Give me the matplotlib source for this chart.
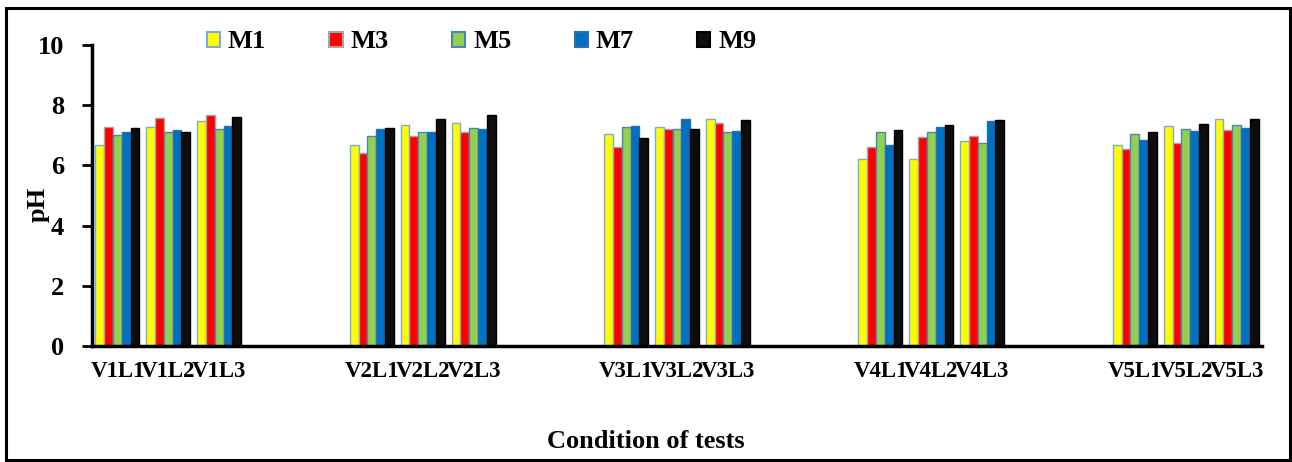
import numpy as np
import matplotlib
matplotlib.use("Agg")
import matplotlib.pyplot as plt
from matplotlib.patches import Patch, Rectangle

# pH per test condition (V = variety, L = level) for each mixture
conditions = [
    "V1L1", "V1L2", "V1L3",
    "V2L1", "V2L2", "V2L3",
    "V3L1", "V3L2", "V3L3",
    "V4L1", "V4L2", "V4L3",
    "V5L1", "V5L2", "V5L3",
]
series_names = ["M1", "M3", "M5", "M7", "M9"]

m1 = [6.68, 7.27, 7.47, 6.68, 7.33, 7.40, 7.05, 7.28, 7.53, 6.21, 6.21, 6.82, 6.67, 7.30, 7.54]
m3 = [7.27, 7.59, 7.67, 6.41, 6.97, 7.12, 6.62, 7.20, 7.42, 6.62, 6.94, 6.99, 6.56, 6.74, 7.19]
m5 = [7.01, 7.11, 7.22, 6.99, 7.12, 7.25, 7.29, 7.20, 7.12, 7.10, 7.10, 6.76, 7.03, 7.20, 7.34]
m7 = [7.12, 7.19, 7.32, 7.20, 7.12, 7.21, 7.32, 7.53, 7.15, 6.68, 7.29, 7.49, 6.83, 7.15, 7.24]
m9 = [7.25, 7.10, 7.62, 7.23, 7.53, 7.66, 6.92, 7.22, 7.51, 7.19, 7.33, 7.52, 7.12, 7.36, 7.54]

fills = ["#FFFF00", "#FF0000", "#92D050", "#0070C0", "#0D0D0D"]
edges = ["#7FA9DC", "#A6A6A6", "#4F81BD", "#2E6DB0", "#000000"]

plt.rcParams["font.family"] = ["Liberation Serif", "DejaVu Serif"]
plt.rcParams["font.weight"] = "bold"

fig = plt.figure(figsize=(12.92, 4.62), dpi=100)
ax = fig.add_axes([0.0712, 0.2511, 0.9056, 0.6515])

# three levels per variety, then two empty slots before the next variety
slots = np.array([(i // 3) * 5 + (i % 3) for i in range(len(conditions))])
bar_w = 0.173

for k, (vals, name) in enumerate(zip([m1, m3, m5, m7, m9], series_names)):
    ax.bar(
        slots + (k - 2) * bar_w,
        vals,
        width=bar_w,
        color=fills[k],
        edgecolor=edges[k],
        linewidth=1.0,
        label=name,
    )

ax.set_xlim(-0.5, 22.5)
ax.set_ylim(0, 10)
ax.set_yticks(np.arange(0, 11, 2))
ax.set_yticklabels([str(v) for v in range(0, 11, 2)], fontsize=19, fontweight="bold")
ax.set_xticks(slots)
ax.set_xticklabels(conditions, fontsize=16.5, fontweight="bold")
ax.tick_params(axis="x", length=0, pad=11)
ax.tick_params(axis="y", length=7, width=2, direction="out", pad=13)

for side in ["top", "right"]:
    ax.spines[side].set_visible(False)
for side in ["left", "bottom"]:
    ax.spines[side].set_linewidth(2.5)

ax.set_ylabel("pH", fontsize=19, fontweight="bold")
ax.yaxis.set_label_coords(-0.036, 0.47)
fig.text(0.5, 1 - 441 / 462, "Condition of tests", fontsize=19,
         fontweight="bold", ha="center", va="center")

handles = [Patch(facecolor=fills[k], edgecolor=edges[k], linewidth=1.5)
           for k in range(len(series_names))]
fig.legend(
    handles, series_names,
    loc="center left", bbox_to_anchor=(0.16, 1 - 42 / 462),
    ncol=5, frameon=False, prop={"size": 19, "weight": "bold"},
    handlelength=0.5, handleheight=0.5, handletextpad=0.3,
    columnspacing=2.4, borderpad=0, borderaxespad=0,
)

# outer frame around the whole chart
fig.patches.append(Rectangle((6 / 1292, 2 / 462), 1284 / 1292, 452 / 462,
                             transform=fig.transFigure, fill=False,
                             edgecolor="black", linewidth=2.2))

fig.savefig("out.png", dpi=100)
